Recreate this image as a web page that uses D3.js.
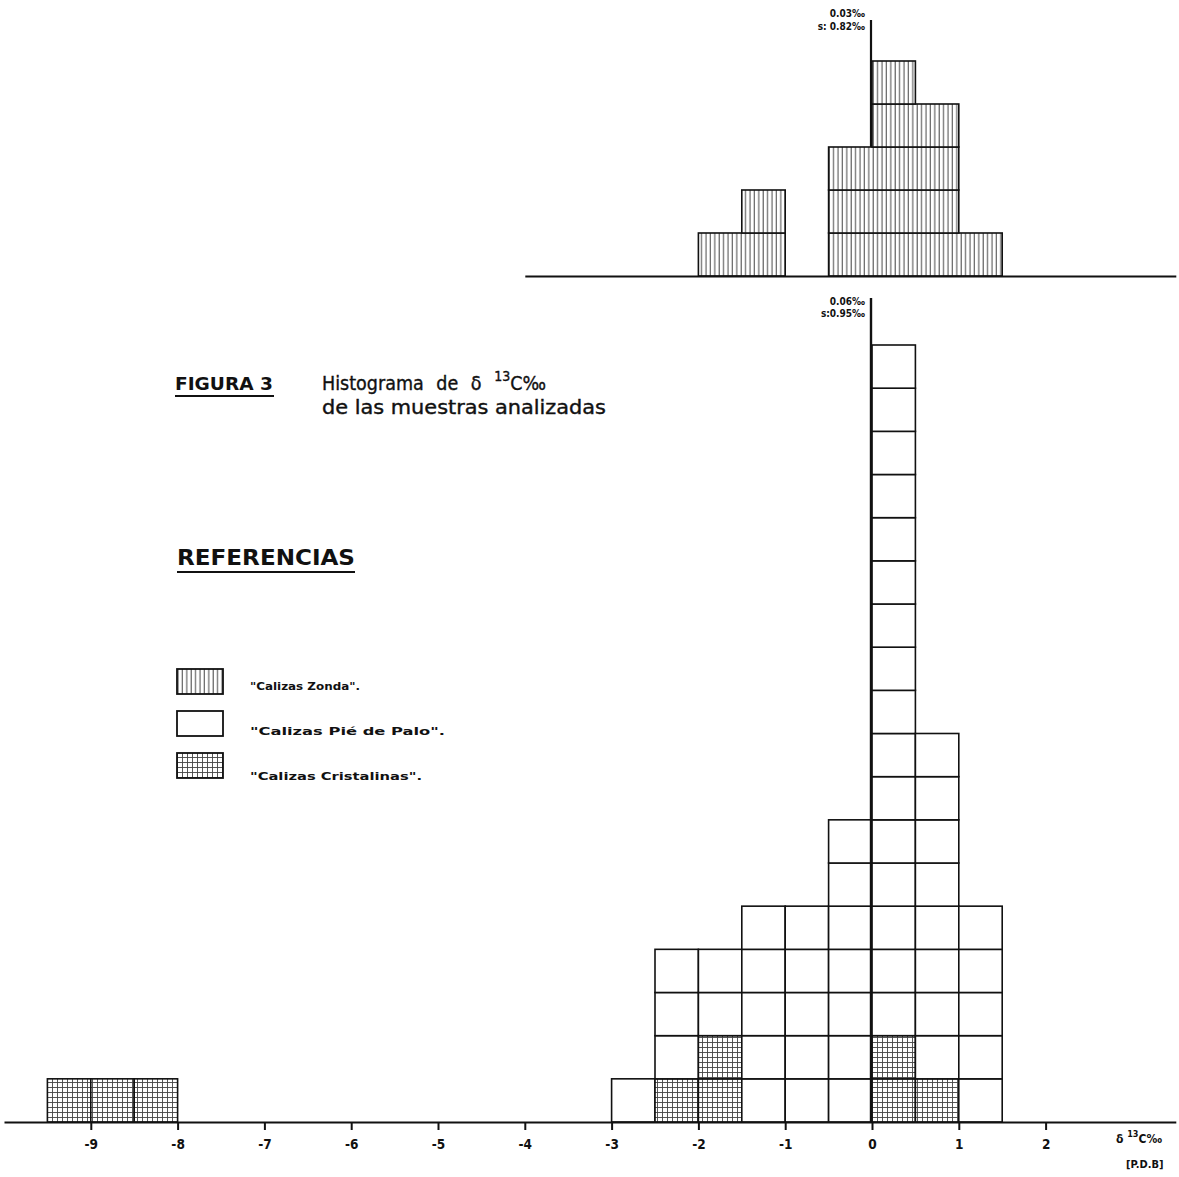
<!DOCTYPE html>
<html><head><meta charset="utf-8">
<script src="https://cdn.jsdelivr.net/npm/d3@7"></script>
<style>body{margin:0;background:#fff}svg{display:block}text{font-family:"DejaVu Sans Condensed","DejaVu Sans",sans-serif;fill:#111}</style>
</head><body><svg id="c" width="1179" height="1177"></svg>
<script>
// ---- data ----
const binWidth = 0.5;
const binStarts   = [-9.5, -9, -8.5, -3, -2.5, -2, -1.5, -1, -0.5, 0, 0.5, 1];
const cristalinas = [1, 1, 1, 0, 1, 2, 0, 0, 0, 2, 1, 0];
const pieDePalo   = [0, 0, 0, 1, 3, 2, 5, 5, 7, 16, 8, 5];
const zondaBins   = [-2, -1.5, -0.5, 0, 0.5, 1];
const zondaCounts = [1, 2, 3, 5, 4, 1];
const tickValues  = [-9, -8, -7, -6, -5, -4, -3, -2, -1, 0, 1, 2];
const topStats    = ["0.03‰", "s: 0.82‰"];
const bottomStats = ["0.06‰", "s:0.95‰"];
const meanMarker  = 0;
const legendItems = ["\"Calizas Zonda\".", "\"Calizas Pié  de  Palo\".", "\"Calizas Cristalinas\"."];

const svg = d3.select("#c");
const x = d3.scaleLinear().domain([-10, 3.5]).range([4, 1175.8]);
const yB = d3.scaleLinear().domain([0, 18]).range([1122, 345]);
const yT = d3.scaleLinear().domain([0, 5]).range([276, 61]);

// patterns
const defs = svg.append("defs");
const pz = defs.append("pattern").attr("id","zonda").attr("patternUnits","userSpaceOnUse").attr("width",4.4).attr("height",10);
pz.append("rect").attr("width",4.4).attr("height",10).attr("fill","#fff");
pz.append("line").attr("x1",2).attr("x2",2).attr("y1",0).attr("y2",10).attr("stroke","#555").attr("stroke-width",1.1);
const pc = defs.append("pattern").attr("id","crist").attr("patternUnits","userSpaceOnUse").attr("width",5).attr("height",5);
pc.append("rect").attr("width",5).attr("height",5).attr("fill","#fff");
pc.append("line").attr("x1",2.5).attr("x2",2.5).attr("y1",0).attr("y2",5).attr("stroke","#444").attr("stroke-width",0.9);
pc.append("line").attr("x1",0).attr("x2",5).attr("y1",2.5).attr("y2",2.5).attr("stroke","#444").attr("stroke-width",0.9);

// bottom histogram: unit cells stacked
const bottomCells=[];
binStarts.forEach((s,i)=>{
  let level=0;
  [[cristalinas,"url(#crist)"],[pieDePalo,"#fff"]].forEach(([counts,fill])=>{
    for(let j=0;j<counts[i];j++){ bottomCells.push({x0:s,x1:s+binWidth,y0:level,y1:level+1,fill}); level++; }
  });
});
// top histogram: horizontal layers spanning contiguous bins
const topRows=[];
const maxZ = d3.max(zondaCounts);
for(let L=0; L<maxZ; L++){
  let run=null;
  zondaBins.forEach((s,i)=>{
    const on = zondaCounts[i] > L;
    if(on && run && Math.abs(run.x1 - s) < 1e-9){ run.x1 = s+binWidth; }
    else if(on){ if(run) topRows.push(run); run={x0:s,x1:s+binWidth,y0:L,y1:L+1}; }
    else if(run){ topRows.push(run); run=null; }
  });
  if(run) topRows.push(run);
}

// mean lines
svg.append("line").attr("x1",x(meanMarker)-1).attr("x2",x(meanMarker)-1).attr("y1",20).attr("y2",yT(0)).attr("stroke","#111").attr("stroke-width",2.2);

svg.append("g").selectAll("rect").data(topRows).join("rect")
  .attr("x",d=>x(d.x0)).attr("width",d=>x(d.x1)-x(d.x0))
  .attr("y",d=>yT(d.y1)).attr("height",d=>yT(d.y0)-yT(d.y1))
  .attr("fill","url(#zonda)").attr("stroke","#111").attr("stroke-width",1.6);

svg.append("g").selectAll("rect").data(bottomCells).join("rect")
  .attr("x",d=>x(d.x0)).attr("width",d=>x(d.x1)-x(d.x0))
  .attr("y",d=>yB(d.y1)).attr("height",d=>yB(d.y0)-yB(d.y1))
  .attr("fill",d=>d.fill).attr("stroke","#111").attr("stroke-width",1.6);
svg.append("line").attr("x1",x(meanMarker)-1).attr("x2",x(meanMarker)-1).attr("y1",298).attr("y2",yB(0)).attr("stroke","#111").attr("stroke-width",2.4);

// axes
const ax = svg.append("g").attr("transform",`translate(0,${yB(0)})`)
  .call(d3.axisBottom(x).tickValues(tickValues).tickSize(8).tickSizeOuter(0).tickPadding(9)
     .tickFormat(d=> d<0 ? "-"+Math.abs(d) : String(d)));
ax.select(".domain").attr("stroke","#111").attr("stroke-width",2.2);
ax.selectAll(".tick line").attr("stroke","#111").attr("stroke-width",2);
ax.selectAll(".tick text").attr("font-size",13.5).attr("font-weight","bold").attr("fill","#111")
  .attr("font-family","'DejaVu Sans Condensed',sans-serif");

const xTop = x.copy().domain([-4, 3.5]).range([x(-4), x(3.5)]);
const axT = svg.append("g").attr("transform",`translate(0,${yT(0)})`)
  .call(d3.axisBottom(xTop).tickValues([]).tickSizeOuter(0));
axT.select(".domain").attr("stroke","#111").attr("stroke-width",2.2);

// stats labels
const sx = x(meanMarker)-7;
function stat(t,y){ svg.append("text").attr("x",sx).attr("y",y).attr("text-anchor","end").attr("font-size",10).attr("font-weight","bold").text(t); }
stat(topStats[0],17); stat(topStats[1],30); stat(bottomStats[0],305); stat(bottomStats[1],317);

// axis label
const al = svg.append("text").attr("x",1116).attr("y",1143).attr("font-size",12).attr("font-weight","bold");
al.append("tspan").text("δ ");
al.append("tspan").attr("font-size",9).attr("dy",-6).text("13");
al.append("tspan").attr("dy",6).text("C‰");
svg.append("text").attr("x",1126).attr("y",1168).attr("font-size",11).attr("font-weight","bold").text("[P.D.B]");

// title
svg.append("text").attr("x",175).attr("y",390).attr("font-size",17).attr("font-weight","bold").attr("textLength",98).attr("lengthAdjust","spacingAndGlyphs").text("FIGURA 3");
svg.append("line").attr("x1",175).attr("x2",274).attr("y1",396).attr("y2",396).attr("stroke","#111").attr("stroke-width",2.2);
const t1 = svg.append("text").attr("x",322).attr("y",390).attr("font-size",19.5).attr("stroke","#111").attr("stroke-width",0.35).attr("word-spacing",7);
t1.append("tspan").text("Histograma  de δ ");
t1.append("tspan").attr("font-size",14).attr("dy",-9).text("13");
t1.append("tspan").attr("dy",9).text("C‰");
svg.append("text").attr("x",322).attr("y",414).attr("font-size",19).attr("stroke","#111").attr("stroke-width",0.35).attr("textLength",284).attr("lengthAdjust","spacingAndGlyphs").text("de las muestras analizadas");

// legend
svg.append("text").attr("x",177).attr("y",565).attr("font-size",21).attr("font-weight","bold").attr("textLength",178).attr("lengthAdjust","spacingAndGlyphs").text("REFERENCIAS");
svg.append("line").attr("x1",177).attr("x2",355).attr("y1",572).attr("y2",572).attr("stroke","#111").attr("stroke-width",2.2);
const legFills = ["url(#zonda)","#fff","url(#crist)"];
const legTextLen = [110, 195, 172];
const legY = d3.scalePoint().domain(legendItems).range([669, 753]);
const legTY = d3.scalePoint().domain(legendItems).range([690, 780]);
const lg = svg.append("g").selectAll("g").data(legendItems).join("g");
lg.append("rect").attr("x",177).attr("y",d=>legY(d)).attr("width",46).attr("height",25).attr("fill",(d,i)=>legFills[i]).attr("stroke","#111").attr("stroke-width",1.8);
lg.append("text").attr("x",250).attr("y",d=>legTY(d)).attr("font-size",10.5).attr("font-weight","bold")
  .attr("textLength",(d,i)=>legTextLen[i]).attr("lengthAdjust","spacingAndGlyphs").text(d=>d);
</script></body></html>
